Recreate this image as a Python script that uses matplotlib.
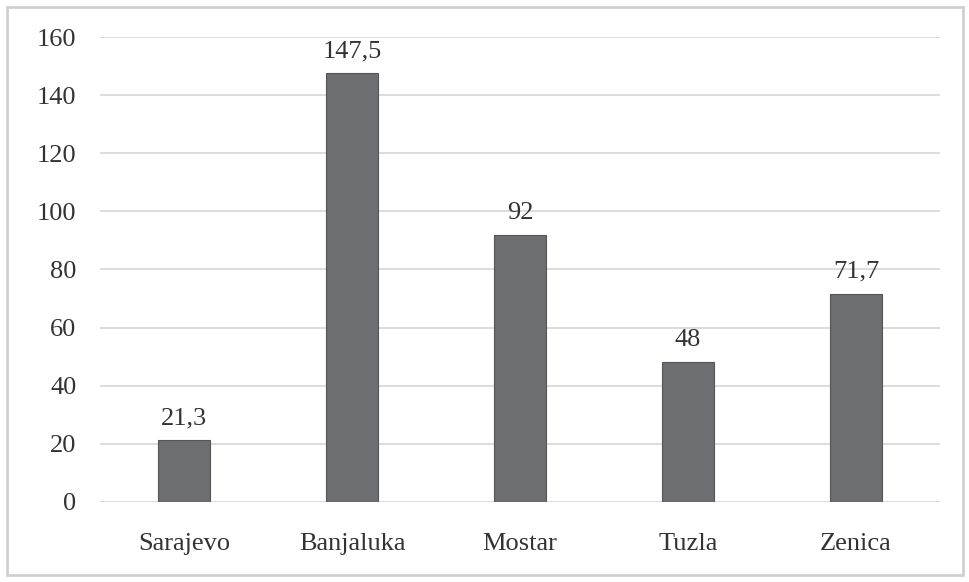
import matplotlib.pyplot as plt
from matplotlib.patches import Rectangle

# Chart data
cities = ['Sarajevo', 'Banjaluka', 'Mostar', 'Tuzla', 'Zenica']
values = [21.3, 147.5, 92, 48, 71.7]
value_labels = ['21,3', '147,5', '92', '48', '71,7']
y_ticks = [0, 20, 40, 60, 80, 100, 120, 140, 160]

plt.rcParams['font.family'] = ['Liberation Serif', 'DejaVu Serif']

fig = plt.figure(figsize=(9.7, 5.82), dpi=100)
ax = fig.add_axes([0.1031, 0.1375, 0.8659, 0.7989])

x = range(len(cities))
bars = ax.bar(x, values, width=0.31, color='#6d6e71', edgecolor='#555558', linewidth=0.8, zorder=3)

# Value labels above the bars
for bar, lab in zip(bars, value_labels):
    ax.annotate(lab, (bar.get_x() + bar.get_width() / 2, bar.get_height()),
                xytext=(0, 8), textcoords='offset points',
                ha='center', va='bottom', fontsize=19, color='#333333')

ax.set_xlim(-0.5, len(cities) - 0.5)
ax.set_ylim(0, 160)
ax.set_yticks(y_ticks)
ax.set_xticks(list(x))
ax.set_xticklabels(cities)
ax.tick_params(axis='both', length=0, labelsize=19, labelcolor='#333333')
ax.tick_params(axis='y', pad=17)
ax.tick_params(axis='x', pad=22)

ax.grid(axis='y', color='#d9d9d9', linewidth=1.3, zorder=0)
for s in ax.spines.values():
    s.set_visible(False)

# Light frame around the whole chart
fig.patches.append(Rectangle((0.007, 0.012), 0.986, 0.976, transform=fig.transFigure,
                             fill=False, edgecolor='#d0d0d0', linewidth=2))

fig.savefig('out.png', dpi=100)
